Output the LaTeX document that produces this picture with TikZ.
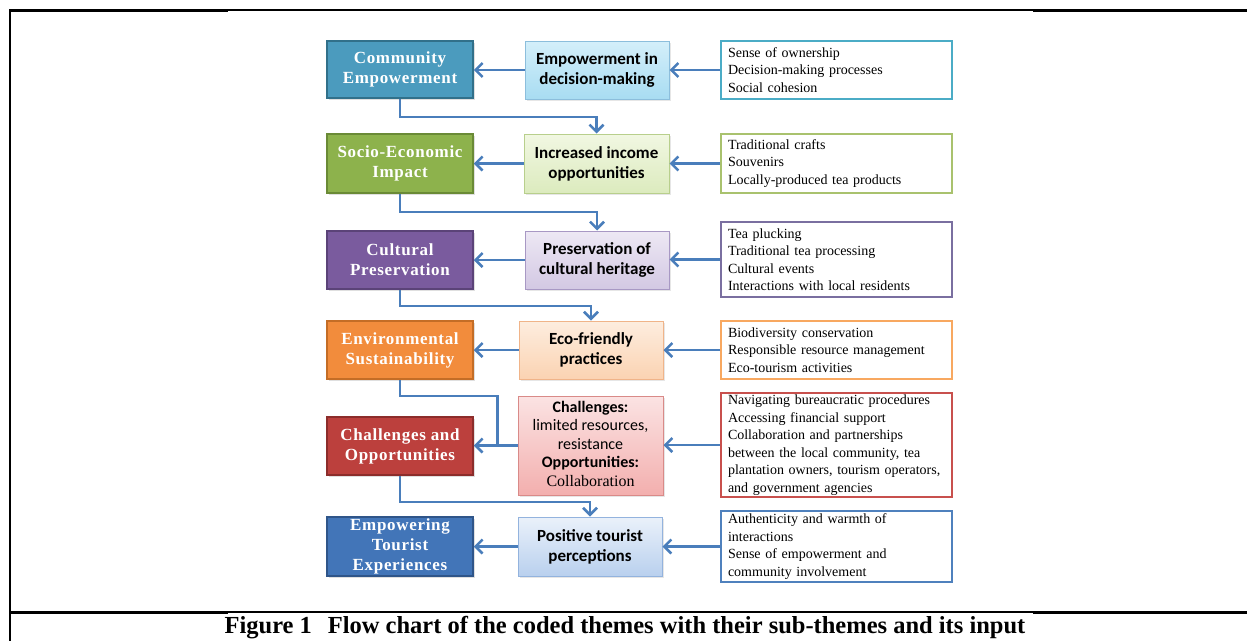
\documentclass[tikz,border=0pt]{standalone}
\usepackage{fontspec}
\setmainfont{Liberation Serif}
\newfontfamily\calibfont{Carlito}
\newfontfamily\serifalt{Liberation Serif}
\newfontfamily\themefont[LetterSpace=4.0]{Liberation Serif}
\usetikzlibrary{arrows.meta,calc,shadows}
\definecolor{arrowblue}{HTML}{4A7EBB}
\definecolor{cA}{HTML}{4B9BBE}\definecolor{cAd}{HTML}{31708A}
\definecolor{cB}{HTML}{8DB24C}\definecolor{cBd}{HTML}{6A8A36}
\definecolor{cC}{HTML}{7A5B9E}\definecolor{cCd}{HTML}{5B4378}
\definecolor{cD}{HTML}{F28C3C}\definecolor{cDd}{HTML}{C46D26}
\definecolor{cE}{HTML}{BC403D}\definecolor{cEd}{HTML}{8C2D2B}
\definecolor{cF}{HTML}{4275B8}\definecolor{cFd}{HTML}{2F5589}
\definecolor{mAt}{HTML}{D4EFFA}\definecolor{mAb}{HTML}{A8DCF2}\definecolor{mAd}{HTML}{8CBEDC}
\definecolor{mBt}{HTML}{F1F7E2}\definecolor{mBb}{HTML}{DCEBBE}\definecolor{mBd}{HTML}{B8CF8C}
\definecolor{mCt}{HTML}{EDE8F4}\definecolor{mCb}{HTML}{D3C8E3}\definecolor{mCd}{HTML}{A898C4}
\definecolor{mDt}{HTML}{FDEDDF}\definecolor{mDb}{HTML}{FBD3B2}\definecolor{mDd}{HTML}{F0B489}
\definecolor{mEt}{HTML}{FBE3E3}\definecolor{mEb}{HTML}{F3AFAE}\definecolor{mEd}{HTML}{D98A88}
\definecolor{mFt}{HTML}{EAF1FA}\definecolor{mFb}{HTML}{B9D0EE}\definecolor{mFd}{HTML}{93B3DE}
\definecolor{rA}{HTML}{4BACC6}
\definecolor{rB}{HTML}{A9C26E}
\definecolor{rC}{HTML}{7A6FA0}
\definecolor{rD}{HTML}{F8A860}
\definecolor{rE}{HTML}{C8504D}
\definecolor{rF}{HTML}{4F81BD}
\begin{document}
\begin{tikzpicture}[x=1pt,y=-1pt,
  theme/.style n args={2}{fill=#1,draw=#2,line width=1.5pt,text=white,
    font=\themefont\bfseries\fontsize{17}{20}\selectfont,align=center,
    inner sep=0pt,minimum width=146pt,
    drop shadow={opacity=0.25,shadow xshift=1.5pt,shadow yshift=-1.5pt}},
  subtheme/.style n args={3}{top color=#1,bottom color=#2,draw=#3,line width=1pt,
    font=\calibfont\bfseries\fontsize{17}{20}\selectfont,align=center,
    inner sep=0pt,minimum width=145pt,
    drop shadow={opacity=0.2,shadow xshift=1.5pt,shadow yshift=-1.5pt}},
  inputbox/.style={draw=#1,line width=1.5pt,fill=white,
    font=\fontsize{14}{17.5}\selectfont,align=left,text width=217pt,
    inner xsep=7pt,inner ysep=0pt,minimum width=231pt},
  conn/.style={draw=arrowblue,line width=2.5pt},
  arr/.style={conn,-{Straight Barb[length=7pt,width=14pt]}}
]
\useasboundingbox (0,0) rectangle (1247,641);
% frame
\draw[line width=1.3pt] (10,10) -- (10,641);
\draw[line width=1.3pt] (228,10) -- (1033,10);
\draw[line width=3pt] (9.4,10) -- (228,10);
\draw[line width=3pt] (1033,10) -- (1247,10);
\draw[line width=1.3pt] (228,612) -- (1033,612);
\draw[line width=3pt] (9.4,612) -- (228,612);
\draw[line width=3pt] (1033,612) -- (1247,612);

% left themes
\node[theme={cA}{cAd},minimum height=57pt] (L1) at (400,69.5) {Community\\Empowerment};
\node[theme={cB}{cBd},minimum height=59pt] (L2) at (400,163.5) {Socio-Economic\\Impact};
\node[theme={cC}{cCd},minimum height=58pt] (L3) at (400,260) {Cultural\\Preservation};
\node[theme={cD}{cDd},minimum height=58pt] (L4) at (400,350) {Environmental\\Sustainability};
\node[theme={cE}{cEd},minimum height=58pt] (L5) at (400,446) {Challenges and\\Opportunities};
\node[theme={cF}{cFd},minimum height=59pt] (L6) at (400,546.5) {Empowering\\Tourist\\Experiences};

% middle sub-themes
\node[subtheme={mAt}{mAb}{mAd},minimum height=58pt,minimum width=144pt] (M1) at (597,70) {Empowerment in\\decision-making};
\node[subtheme={mBt}{mBb}{mBd},minimum height=59pt] (M2) at (596.5,163.5) {Increased income\\opportunities};
\node[subtheme={mCt}{mCb}{mCd},minimum height=58pt,minimum width=144pt] (M3) at (597,260) {Preservation of\\cultural heritage};
\node[subtheme={mDt}{mDb}{mDd},minimum height=58pt,minimum width=144pt] (M4) at (591,350) {Eco-friendly\\practices};
\node[top color=mEt,bottom color=mEb,draw=mEd,line width=1pt,inner sep=0pt,
  minimum width=145pt,minimum height=99pt,
  drop shadow={opacity=0.2,shadow xshift=1.5pt,shadow yshift=-1.5pt},
  font=\calibfont\fontsize{16}{18.5}\selectfont] (M5) at (590.5,445.5)
  {\begin{tabular}{@{}c@{}}\textbf{Challenges:}\\limited resources,\\resistance\\\textbf{Opportunities:}\\{\serifalt Collaboration}\end{tabular}};
\node[subtheme={mFt}{mFb}{mFd},minimum height=59pt,minimum width=144pt] (M6) at (590,546.5) {Positive tourist\\perceptions};

% right inputs
\node[inputbox=rA,minimum height=58pt] (R1) at (836.5,70) {Sense of ownership\\Decision-making processes\\Social cohesion};
\node[inputbox=rB,minimum height=59pt] (R2) at (836.5,163.5) {Traditional crafts\\Souvenirs\\Locally-produced tea products};
\node[inputbox=rC,minimum height=75pt] (R3) at (836.5,259.5) {Tea plucking\\Traditional tea processing\\Cultural events\\Interactions with local residents};
\node[inputbox=rD,minimum height=58pt] (R4) at (836.5,350) {Biodiversity conservation\\Responsible resource management\\Eco-tourism activities};
\node[inputbox=rE,minimum height=104pt] (R5) at (836.5,445) {Navigating bureaucratic procedures\\Accessing financial support\\Collaboration and partnerships\\between the local community, tea\\plantation owners, tourism operators,\\and government agencies};
\node[inputbox=rF,minimum height=71pt] (R6) at (836.5,546.5) {Authenticity and warmth of\\interactions\\Sense of empowerment and\\community involvement};

% horizontal arrows
\foreach \i in {1,...,6}{
  \draw[arr] (R\i.west) -- (R\i.west -| M\i.east);
  \draw[arr] (M\i.west) -- (M\i.west -| L\i.east);
}

% vertical connectors
\draw[arr] (L1.south) -- ++(0,18) -| (M2.north);
\draw[arr] (L2.south) -- ++(0,18) -| (M3.north);
\draw[arr] (L3.south) -- ++(0,16) -| (M4.north);
\coordinate (J) at ($(M5.west)+(-20,0)$);
\draw[conn] (L4.south) -- ++(0,16) -| (J);
\draw[arr] (L5.south) -- ++(0,26) -| (M6.north);

% caption
\node[anchor=base,font=\bfseries\fontsize{24.5}{28}\selectfont] (cap) at (625,633)
  {Figure 1\hspace{0.4em} Flow chart of the coded themes with their sub-themes and its input};
\end{tikzpicture}
\end{document}
